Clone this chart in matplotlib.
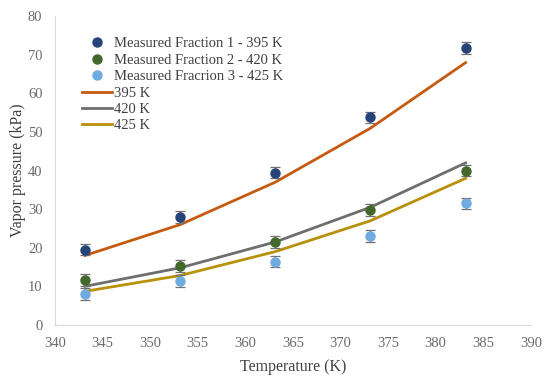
import matplotlib
matplotlib.use("Agg")
import matplotlib.pyplot as plt

plt.rcParams['font.family'] = ['Liberation Serif', 'DejaVu Serif']

temps = [343.15, 353.15, 363.15, 373.15, 383.15]

# measured fractions (kPa)
frac1 = [19.5, 28.0, 39.5, 53.8, 71.8]
frac2 = [11.6, 15.2, 21.5, 29.8, 40.0]
frac3 = [8.0, 11.4, 16.4, 23.0, 31.5]
err1 = [1.5, 1.5, 1.5, 1.5, 1.5]
err2 = [1.5, 1.5, 1.5, 1.5, 1.5]
err3 = [1.5, 1.5, 1.5, 1.5, 1.5]

# model curves (kPa)
model_395 = [18.0, 26.0, 37.0, 51.0, 68.0]
model_420 = [10.0, 14.8, 21.5, 30.5, 42.0]
model_425 = [8.7, 12.8, 19.0, 27.0, 38.0]

fig, ax = plt.subplots(figsize=(5.5, 3.8), dpi=100)
fig.subplots_adjust(left=0.1, right=0.965, top=0.957, bottom=0.145)

ax.plot(temps, model_395, color='#C55A11', lw=2, label='395 K', zorder=2)
ax.plot(temps, model_420, color='#6E6E6E', lw=2, label='420 K', zorder=2)
ax.plot(temps, model_425, color='#B8900A', lw=2, label='425 K', zorder=2)

ekw = dict(fmt='o', ms=6.5, ecolor='#707070', elinewidth=0.9, capsize=3.5, capthick=0.9, zorder=3)
ax.errorbar(temps, frac1, yerr=err1, color='#264478', label='Measured Fraction 1 - 395 K', **ekw)
ax.errorbar(temps, frac2, yerr=err2, color='#43682B', label='Measured Fraction 2 - 420 K', **ekw)
ax.errorbar(temps, frac3, yerr=err3, color='#6FAAE0', label='Measured Fracrion 3 - 425 K', **ekw)

ax.set_xlim(340, 390)
ax.set_ylim(0, 80)
ax.set_xticks(range(340, 391, 5))
ax.set_yticks(range(0, 81, 10))
ax.set_xlabel('Temperature (K)', fontsize=11.5, color='#404040', labelpad=6)
ax.set_ylabel('Vapor pressure (kPa)', fontsize=11.5, color='#404040', labelpad=1)
ax.tick_params(length=0, labelsize=10.5, labelcolor='#6A6A6A', pad=9)
for s in ['top', 'right']:
    ax.spines[s].set_visible(False)
for s in ['left', 'bottom']:
    ax.spines[s].set_color('#D9D9D9')

handles, labels = ax.get_legend_handles_labels()
order = [3, 4, 5, 0, 1, 2]
handles = [handles[i] for i in order]
labels = [labels[i] for i in order]
# drop error bars from marker legend entries
handles = [h[0] if hasattr(h, 'lines') else h for h in handles]
ax.legend(handles, labels, loc='upper left', bbox_to_anchor=(0.03, 0.975), frameon=False,
          fontsize=10.5, handlelength=2.0, handletextpad=0.2, labelspacing=0.22,
          labelcolor='#404040')

fig.savefig('out.png')
